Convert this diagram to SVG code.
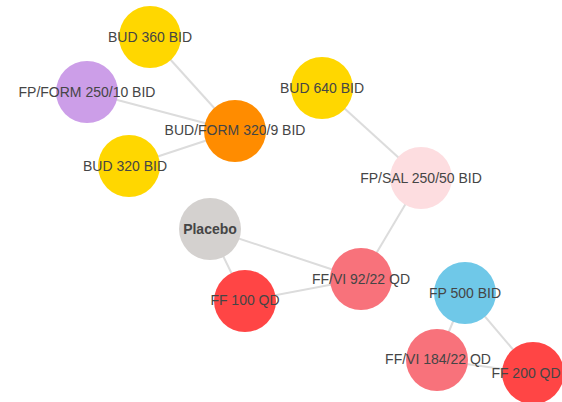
<svg xmlns="http://www.w3.org/2000/svg" width="562" height="402" viewBox="0 0 562 402">
<style>
.e{stroke:#dcdcdc;stroke-width:2;fill:none}
.n{stroke:none}
.t{font-family:"Liberation Sans",Arial,sans-serif;font-size:14px;fill:#454545;text-anchor:middle;dominant-baseline:central}
.b{font-weight:bold}
</style>
<rect width="562" height="402" fill="#ffffff"/>
<g id="edges">
<line class="e" x1="150" y1="37" x2="235" y2="131"/>
<line class="e" x1="87" y1="92" x2="235" y2="131"/>
<line class="e" x1="129" y1="166" x2="235" y2="131"/>
<line class="e" x1="322" y1="88" x2="421" y2="178"/>
<line class="e" x1="421" y1="178" x2="361" y2="279"/>
<line class="e" x1="210" y1="229" x2="361" y2="279"/>
<line class="e" x1="210" y1="229" x2="245" y2="301"/>
<line class="e" x1="245" y1="301" x2="361" y2="279"/>
<line class="e" x1="465" y1="293" x2="437" y2="360"/>
<line class="e" x1="465" y1="293" x2="533" y2="373"/>
<line class="e" x1="437" y1="360" x2="533" y2="373"/>
</g>
<g id="bud360"><circle class="n" cx="150" cy="37" r="31" fill="#ffd700"/><text class="t" x="150" y="37">BUD 360 BID</text></g>
<g id="fpform"><circle class="n" cx="87" cy="92" r="31" fill="#cc9ee8"/><text class="t" x="87" y="92">FP/FORM 250/10 BID</text></g>
<g id="budform"><circle class="n" cx="235" cy="131" r="31" fill="#ff8c00"/><text class="t" x="235" y="130">BUD/FORM 320/9 BID</text></g>
<g id="bud320"><circle class="n" cx="129" cy="166" r="31" fill="#ffd700"/><text class="t" x="125" y="166">BUD 320 BID</text></g>
<g id="bud640"><circle class="n" cx="322" cy="88" r="31" fill="#ffd700"/><text class="t" x="322" y="88">BUD 640 BID</text></g>
<g id="fpsal"><circle class="n" cx="421" cy="178" r="31" fill="#fddde0"/><text class="t" x="421" y="178">FP/SAL 250/50 BID</text></g>
<g id="placebo"><circle class="n" cx="210" cy="229" r="31" fill="#d4d1cf"/><text class="t b" x="210" y="229">Placebo</text></g>
<g id="ff100"><circle class="n" cx="245" cy="301" r="31" fill="#ff4545"/><text class="t" x="245" y="300">FF 100 QD</text></g>
<g id="ffvi92"><circle class="n" cx="361" cy="279" r="31" fill="#f8727b"/><text class="t" x="361" y="279">FF/VI 92/22 QD</text></g>
<g id="fp500"><circle class="n" cx="465" cy="293" r="31" fill="#6fc8e8"/><text class="t" x="465" y="293">FP 500 BID</text></g>
<g id="ffvi184"><circle class="n" cx="437" cy="360" r="31" fill="#f8727b"/><text class="t" x="438" y="359">FF/VI 184/22 QD</text></g>
<g id="ff200"><circle class="n" cx="533" cy="373" r="31" fill="#ff4545"/><text class="t" x="526" y="373">FF 200 QD</text></g>
</svg>
